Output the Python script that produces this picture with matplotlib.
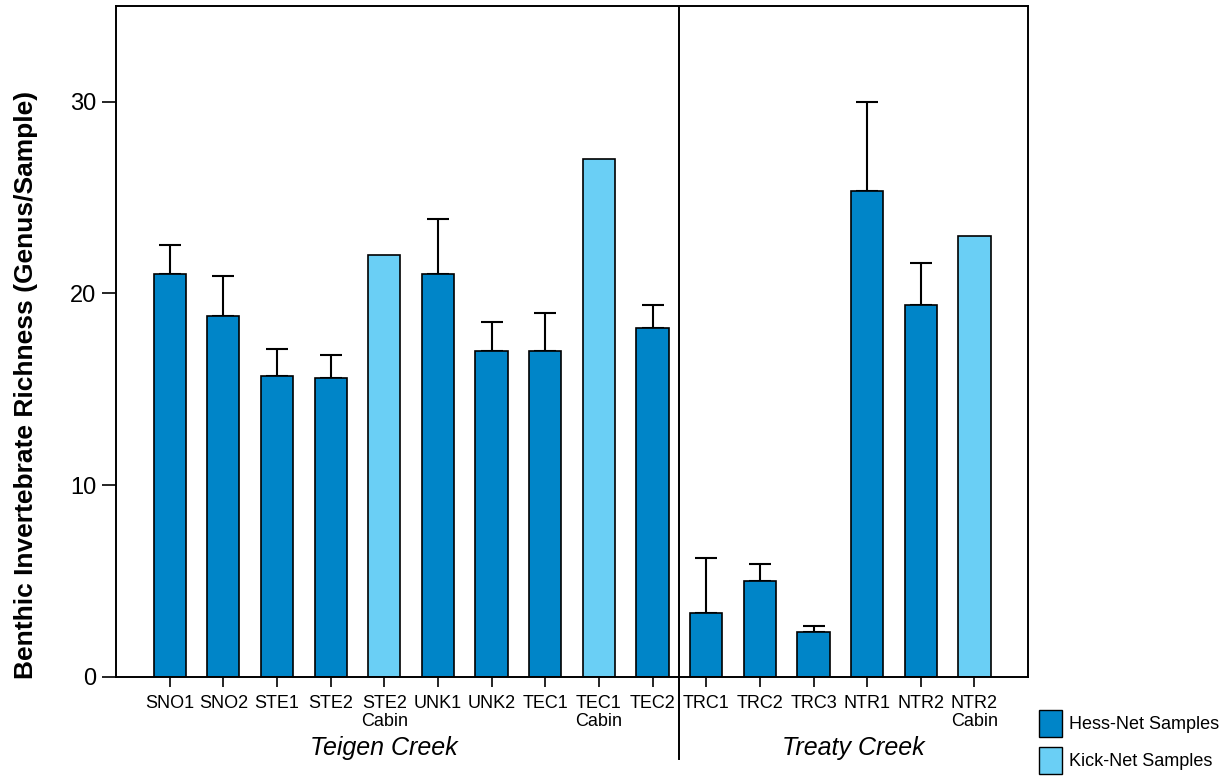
import numpy as np
import matplotlib.pyplot as plt
from matplotlib.patches import Patch

plt.rcParams['font.family'] = ['Liberation Sans', 'DejaVu Sans']

sites = ['SNO1', 'SNO2', 'STE1', 'STE2', 'STE2\nCabin', 'UNK1', 'UNK2', 'TEC1',
         'TEC1\nCabin', 'TEC2', 'TRC1', 'TRC2', 'TRC3', 'NTR1', 'NTR2', 'NTR2\nCabin']
richness = [21.0, 18.8, 15.7, 15.6, 22.0, 21.0, 17.0, 17.0,
            27.0, 18.2, 3.33, 5.0, 2.33, 25.33, 19.4, 23.0]
err_up = [1.5, 2.1, 1.4, 1.2, 0, 2.9, 1.5, 2.0,
          0, 1.2, 2.85, 0.9, 0.33, 4.67, 2.2, 0]
method = ['hess'] * 4 + ['kick'] + ['hess'] * 3 + ['kick'] + ['hess'] * 6 + ['kick']
groups = ['Teigen Creek', 'Treaty Creek']
group_pos = [4.0, 12.75]

hess_col = '#0085c8'
kick_col = '#6acff5'

fig = plt.figure(figsize=(12.26, 7.76), dpi=100)
ax = fig.add_axes([0.0946, 0.1276, 0.744, 0.865])

x = np.arange(len(sites))
cols = [hess_col if m == 'hess' else kick_col for m in method]
ax.bar(x, richness, width=0.6, color=cols, edgecolor='black', linewidth=1.2, zorder=2)
has_err = [e > 0 for e in err_up]
ax.errorbar(x[has_err], np.array(richness)[has_err],
            yerr=[np.zeros(sum(has_err)), np.array(err_up)[has_err]],
            fmt='none', ecolor='black', elinewidth=1.5, capsize=8, capthick=1.5, zorder=1)

ax.set_xlim(-1, 16)
ax.set_ylim(0, 35)
ax.set_yticks([0, 10, 20, 30])
ax.set_xticks(x)
ax.set_xticklabels(sites, fontsize=13, linespacing=1.05)
ax.tick_params(axis='y', labelsize=17, length=10, width=1.2, pad=4)
ax.tick_params(axis='x', length=7, width=1.2, pad=6)
for s in ax.spines.values():
    s.set_linewidth(1.4)

ax.set_ylabel('Benthic Invertebrate Richness (Genus/Sample)', fontsize=19,
              fontweight='bold')
ax.yaxis.set_label_coords(-0.086, 0.435)

# divider between creeks, running below the axis
ax.plot([9.5, 9.5], [0, 35], color='black', lw=1.4, zorder=3)
ax.plot([9.5, 9.5], [0, -4.3], color='black', lw=1.4, clip_on=False)

for g, p in zip(groups, group_pos):
    ax.text(p, -3.72, g, ha='center', va='center', fontsize=18, style='italic')

handles = [Patch(facecolor=hess_col, edgecolor='black', label='Hess-Net Samples'),
           Patch(facecolor=kick_col, edgecolor='black', label='Kick-Net Samples')]
fig.legend(handles=handles, loc='lower left', bbox_to_anchor=(0.834, -0.018),
           frameon=False, fontsize=13, handlelength=1.3, handleheight=1.9,
           handletextpad=0.4, labelspacing=0.55)

fig.savefig('out.png', dpi=100)
